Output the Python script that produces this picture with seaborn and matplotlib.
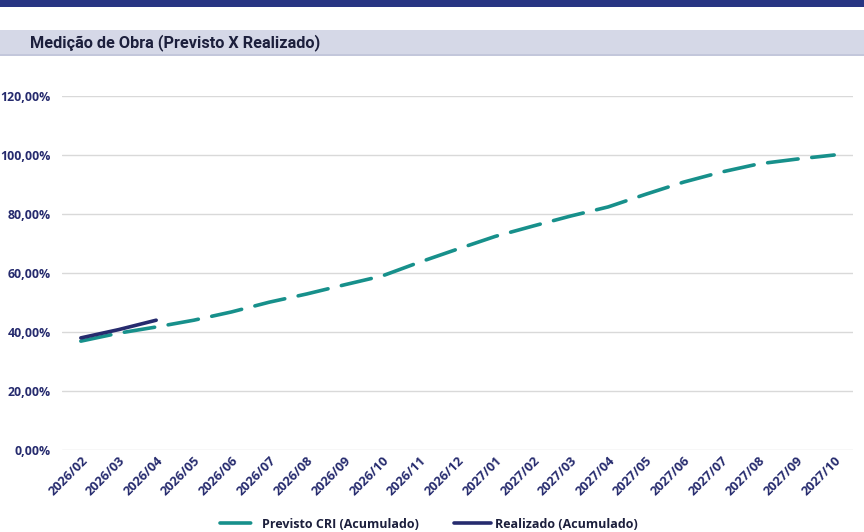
import matplotlib
matplotlib.use('Agg')
import matplotlib.pyplot as plt
from matplotlib.patches import Rectangle
from matplotlib.ticker import FuncFormatter
import numpy as np
import pandas as pd
import seaborn as sns

# Data
meses = ['2026/02', '2026/03', '2026/04', '2026/05', '2026/06', '2026/07', '2026/08',
         '2026/09', '2026/10', '2026/11', '2026/12', '2027/01', '2027/02', '2027/03',
         '2027/04', '2027/05', '2027/06', '2027/07', '2027/08', '2027/09', '2027/10']
previsto = [36.9, 39.6, 41.7, 44.0, 46.8, 50.1, 52.9, 56.0, 59.0, 63.7, 68.1,
            72.4, 75.9, 79.3, 82.4, 86.7, 90.8, 94.2, 97.0, 98.6, 100.0]
realizado = [38.0, 40.8, 44.0]

navy = '#262b6e'
teal = '#17908b'

sns.set_theme(style='white')
plt.rcParams['font.family'] = ['Open Sans', 'DejaVu Sans']

df_prev = pd.DataFrame({'mes': meses, 'valor': previsto})
df_real = pd.DataFrame({'mes': meses[:len(realizado)], 'valor': realizado})

fig = plt.figure(figsize=(8.64, 5.32), dpi=100)

# header bands
fig.patches.append(Rectangle((0, 1 - 7 / 532), 1, 7 / 532, transform=fig.transFigure,
                             facecolor='#283583', edgecolor='none'))
fig.patches.append(Rectangle((0, 1 - 56 / 532), 1, 26 / 532, transform=fig.transFigure,
                             facecolor='#d5d8e7', edgecolor='none'))
fig.patches.append(Rectangle((0, 1 - 56 / 532), 1, 1.5 / 532, transform=fig.transFigure,
                             facecolor='#c3c7db', edgecolor='none'))
fig.text(30 / 864, 1 - 43 / 532, 'Medição de Obra (Previsto X Realizado)',
         fontsize=11.7, fontweight='bold', color='#1c1f3c', va='center', ha='left',
         family=['Roboto', 'DejaVu Sans'])

ax = fig.add_axes([62 / 864, 1 - 450 / 532, (853 - 62) / 864, (450 - 96) / 532])

sns.lineplot(data=df_prev, x='mes', y='valor', ax=ax, color=teal, linewidth=2.6,
             label='Previsto CRI (Acumulado)', sort=False)
ax.lines[-1].set_dashes((8.5, 3.8))
ax.lines[-1].set_dash_capstyle('round')
sns.lineplot(data=df_real, x='mes', y='valor', ax=ax, color=navy, linewidth=2.6,
             label='Realizado (Acumulado)', sort=False)

ax.set_xlim(-0.5, len(meses) - 0.5)
ax.set_ylim(0, 120)
ax.set_yticks(np.arange(0, 121, 20))
ax.yaxis.set_major_formatter(FuncFormatter(lambda v, p: f'{v:.2f}%'.replace('.', ',')))
ax.grid(axis='y', color='#d9d9d9', linewidth=1)
ax.grid(axis='x', visible=False)
for s in ax.spines.values():
    s.set_visible(False)
ax.set_xlabel('')
ax.set_ylabel('')
ax.tick_params(axis='both', length=0, labelsize=9.3, labelcolor=navy)
ax.tick_params(axis='y', pad=8, labelsize=8.9)
ax.tick_params(axis='x', pad=3)
for lab in ax.get_yticklabels():
    lab.set_fontweight('bold')
for lab in ax.get_xticklabels():
    lab.set_fontweight('bold')
    lab.set_rotation(45)
    lab.set_ha('right')
    lab.set_rotation_mode('anchor')

leg = ax.legend(loc='center',
                bbox_to_anchor=((429 - 62) / 791, (1 - 524 / 532 - (1 - 450 / 532)) / ((450 - 96) / 532)),
                ncol=2, frameon=False, fontsize=9, handlelength=3.0, columnspacing=2.8,
                handletextpad=0.3)
for t in leg.get_texts():
    t.set_fontweight('bold')
    t.set_color('#1c1f3c')

fig.savefig('out.png', dpi=100)
